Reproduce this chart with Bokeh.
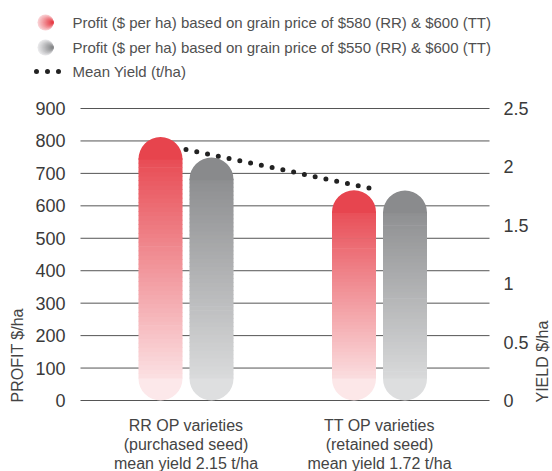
import numpy as np
from bokeh.plotting import figure
from bokeh.models import Range1d
from bokeh.core.properties import value
from bokeh.embed import file_html
from bokeh.resources import INLINE

# ---------------- data ----------------
categories = ["RR OP varieties\n(purchased seed)\nmean yield 2.15 t/ha",
              "TT OP varieties\n(retained seed)\nmean yield 1.72 t/ha"]
profit_580 = [812, 648]
profit_550 = [749, 647]
mean_yield = [2.15, 1.80]
series_names = ["Profit ($ per ha) based on grain price of $580 (RR) & $600 (TT)",
                "Profit ($ per ha) based on grain price of $550 (RR) & $600 (TT)",
                "Mean Yield (t/ha)"]
profit_ticks = [0, 100, 200, 300, 400, 500, 600, 700, 800, 900]
profit_tick_labels = [str(t) for t in profit_ticks]
yield_ticks = [0, 0.5, 1, 1.5, 2, 2.5]
yield_tick_labels = ["0", "0.5", "1", "1.5", "2", "2.5"]
left_axis_title = "PROFIT $/ha"
right_axis_title = "YIELD $/ha"

# ---------------- layout / style ----------------
W, H = 552, 471
FONT = value("Liberation Sans")
RED_TOP, RED_BOT = (230, 60, 70), (253, 240, 241)
GREY_TOP, GREY_BOT = (133, 134, 136), (226, 227, 228)
RED_LEG_L, GREY_LEG_L = (249, 208, 211), (232, 232, 234)

PLOT_L, PLOT_R = 80, 489          # gridline extent (px)
PLOT_T, PLOT_B = 108, 400         # y of max tick / zero (px)
GROUP0_PX = 185.5                 # px of first category centre
X_UNIT_PX = 193.5                 # px between categories
px_per_unit = (PLOT_B - PLOT_T) / 900.0
px_per_yield = (PLOT_B - PLOT_T) / 2.5

x_start = -GROUP0_PX / X_UNIT_PX
x_end = x_start + W / X_UNIT_PX
y_start = -(H - PLOT_B) / px_per_unit
y_end = PLOT_B / px_per_unit


def xp(px):
    return x_start + px / X_UNIT_PX


def yp(py):
    return (PLOT_B - py) / px_per_unit


cat_x = np.arange(len(categories), dtype=float)
bar_w = 44 / X_UNIT_PX
bar_off = 25.5 / X_UNIT_PX
radius_px = 22


def mix(c1, c2, t):
    return "#%02x%02x%02x" % tuple(int(round(a + (b - a) * t)) for a, b in zip(c1, c2))


p = figure(width=W, height=H, x_range=Range1d(x_start, x_end),
           y_range=Range1d(y_start, y_end), output_backend="svg",
           toolbar_location=None, min_border=0, x_axis_type=None, y_axis_type=None)
p.outline_line_color = None
p.grid.visible = False
p.extra_y_ranges = {"yield": Range1d(-(H - PLOT_B) / px_per_yield, PLOT_B / px_per_yield)}

# gridlines
p.segment(x0=[xp(PLOT_L)] * len(profit_ticks), x1=[xp(PLOT_R)] * len(profit_ticks),
          y0=profit_ticks, y1=profit_ticks, line_color="#555555", line_width=1)

# tick labels
p.text(x=[xp(65)] * len(profit_ticks), y=profit_ticks, text=profit_tick_labels,
       text_font=FONT, text_font_size="18px", text_align="right",
       text_baseline="middle", text_color="#3a3a3a")
p.text(x=[xp(503)] * len(yield_ticks), y=yield_ticks, text=yield_tick_labels,
       y_range_name="yield", text_font=FONT, text_font_size="18px",
       text_align="left", text_baseline="middle", text_color="#3a3a3a")

# axis titles
p.text(x=[xp(17)], y=[yp(402)], text=[left_axis_title], angle=np.pi / 2,
       text_font=FONT, text_font_size="16px", text_align="left",
       text_baseline="middle", text_color="#444444")
p.text(x=[xp(542)], y=[yp(402)], text=[right_axis_title], angle=np.pi / 2,
       text_font=FONT, text_font_size="16px", text_align="left",
       text_baseline="middle", text_color="#444444")

# bars (vertical gradient, rounded ends)
cap = radius_px / px_per_unit
overlap = 0.7 / px_per_unit
N = 50


def draw_bars(xs, vals, c_top, c_bot):
    top_x, top_b, top_t, top_c = [], [], [], []
    bot_x, bot_b, bot_t, bot_c = [], [], [], []
    mid_x, mid_b, mid_t, mid_c = [], [], [], []
    for x, v in zip(xs, vals):
        top_x.append(x); top_b.append(v - cap - overlap); top_t.append(v)
        top_c.append(mix(c_top, c_bot, (cap / 2) / v))
        bot_x.append(x); bot_b.append(0); bot_t.append(cap + overlap)
        bot_c.append(mix(c_top, c_bot, 1 - (cap / 2) / v))
        edges = np.linspace(cap, v - cap, N + 1)
        for a, b in zip(edges[:-1], edges[1:]):
            mid_x.append(x); mid_b.append(a); mid_t.append(b + overlap)
            mid_c.append(mix(c_top, c_bot, 1 - ((a + b) / 2) / v))
    p.vbar(x=bot_x, bottom=bot_b, top=bot_t, width=bar_w, fill_color=bot_c,
           line_color=None, border_radius=(0, 0, radius_px, radius_px))
    p.vbar(x=mid_x, bottom=mid_b, top=mid_t, width=bar_w, fill_color=mid_c,
           line_color=None)
    p.vbar(x=top_x, bottom=top_b, top=top_t, width=bar_w, fill_color=top_c,
           line_color=None, border_radius=(radius_px, radius_px, 0, 0))


draw_bars(cat_x - bar_off, profit_580, RED_TOP, RED_BOT)
draw_bars(cat_x + bar_off, profit_550, GREY_TOP, GREY_BOT)

# mean yield dotted line
p.line(x=cat_x, y=mean_yield, y_range_name="yield", line_color="#222222",
       line_width=5, line_dash="0 11", line_cap="round")

# category labels
p.text(x=cat_x, y=[yp(416)] * len(categories), text=categories, text_font=FONT,
       text_font_size="16px", text_align="center", text_baseline="top",
       text_color="#444444", text_line_height=1.13)

# legend
K = 16
R = 8
for row, (c_left, c_right) in enumerate([(RED_LEG_L, RED_TOP), (GREY_LEG_L, GREY_TOP)]):
    cy = yp(22 + row * 25)
    xs, sizes, cols = [], [], []
    for k in range(K):
        t = k / (K - 1)
        r = R * (1 - 0.88 * t)
        xs.append(xp(45 + R - r))
        sizes.append(2 * r)
        cols.append(mix(c_left, c_right, t))
    p.scatter(x=xs, y=[cy] * K, size=sizes, fill_color=cols, line_color=None)
p.line(x=[xp(36), xp(59)], y=[yp(71)] * 2, line_color="#222222", line_width=5,
       line_dash="0 11", line_cap="round")
p.text(x=[xp(72)] * 3, y=[yp(22), yp(47), yp(71)], text=series_names, text_font=FONT,
       text_font_size="15px", text_baseline="middle", text_color="#505050")

open("out.html", "w").write(file_html(p, INLINE))
